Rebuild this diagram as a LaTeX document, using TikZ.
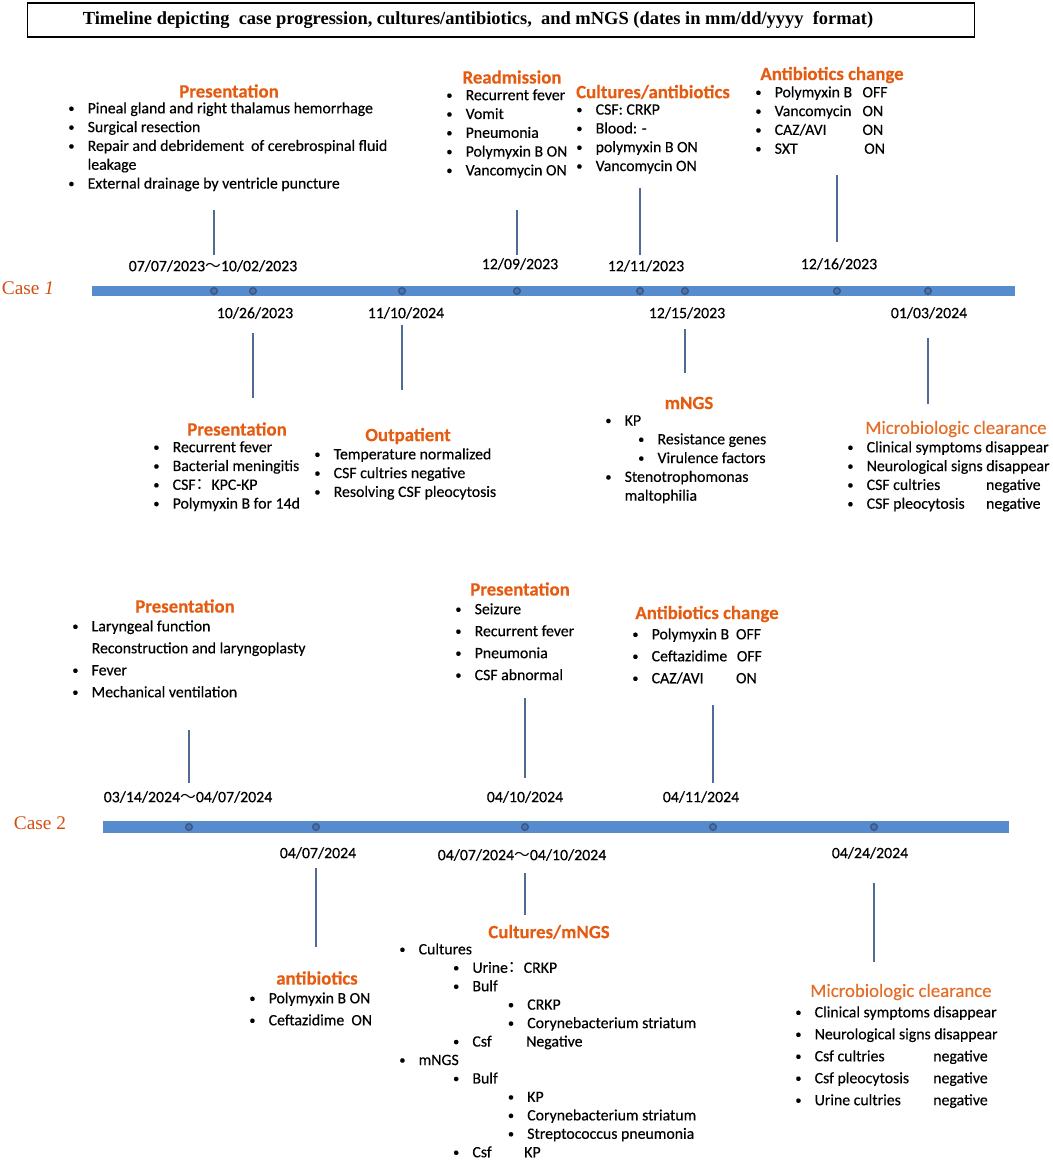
\documentclass[tikz,border=0pt]{standalone}
\usepackage{fontspec}
\setmainfont{Carlito}[FakeBold=0.3]
\newfontfamily\casefont{Liberation Serif}
\newfontfamily\cjk{Noto Sans CJK SC}
\usepackage{xcolor}
\usepackage{tikz}

\definecolor{headorange}{RGB}{228,92,18}
\definecolor{clearorange}{RGB}{228,110,40}
\definecolor{caseorange}{RGB}{212,78,20}
\definecolor{barblue}{RGB}{86,139,206}
\definecolor{stemblue}{RGB}{78,108,150}
\definecolor{dotblue}{RGB}{62,90,138}

\newcommand{\itm}{\makebox[11pt][l]{\raisebox{0.6pt}{\fontsize{7}{7}\selectfont\textbullet}}}

\begin{document}
\begin{tikzpicture}[x=0.02cm,y=-0.02cm]
	  \tikzset{titlebox/.style={draw, line width=1pt, minimum width=18.94cm, minimum height=0.68cm, inner sep=0pt},
	  	titletext/.style={font=\casefont\bfseries\fontsize{10.5}{12}\selectfont, inner sep=0pt},
	  	case/.style={font=\casefont\fontsize{11}{13}\selectfont, text=caseorange, inner sep=0pt},
	  	head/.style={font=\bfseries\fontsize{10.7}{12}\selectfont, text=headorange, inner sep=0pt},
	  	clear/.style={font=\fontsize{10.7}{12}\selectfont, text=clearorange, inner sep=0pt},
	  	list/.style={anchor=north west, align=left, inner sep=0pt,
	  		font=\fontsize{9}{10.7}\selectfont, execute at begin node=\strut},
	  	widelist/.style={list, font=\fontsize{9}{12.5}\selectfont},
	  	date/.style={font=\fontsize{9}{11}\selectfont, inner sep=0pt},
	  	stem/.style={draw=stemblue, line width=0.8pt},
	  	bar/.style={fill=barblue},
	  	dot/.style={circle, draw=dotblue, fill=barblue!85!black, line width=0.9pt, minimum size=0.13cm, inner sep=0pt},
	  }
	  \useasboundingbox (0,0) rectangle (1052,1163);

	  %% title
	  \node [titlebox] (tbox) at (501,20) {};
	  \node [titletext] (title) at (478,20) {Timeline depicting\ \ case progression, cultures/antibiotics,\ \ and mNGS (dates in mm/dd/yyyy\ \ format)};

	  %% case 1 timeline
	  \node [case] (case1) at (28,288) {Case \textit{1}};
	  \fill [bar] (92,286) rectangle (1015,296);
	  \foreach \n/\x in {a/214,b/253,c/402,d/517,e/640,f/685,g/837,h/928}
	  	\node [dot] (c1\n) at (\x,291) {};

	  \node [date] (d1a) at (213,266) {07/07/2023{\cjk ～}10/02/2023};
	  \node [date] (d1b) at (255,313) {10/26/2023};
	  \node [date] (d1c) at (406,313) {11/10/2024};
	  \node [date] (d1d) at (520,264) {12/09/2023};
	  \node [date] (d1e) at (646,266) {12/11/2023};
	  \node [date] (d1f) at (687,313) {12/15/2023};
	  \node [date] (d1g) at (839,264) {12/16/2023};
	  \node [date] (d1h) at (929,313) {01/03/2024};

	  \node [head] (pres1) at (229,91) {Presentation};
	  \node [list] (pres1l) at (68,102) {\itm Pineal gland and right thalamus hemorrhage\\
	  	\itm Surgical resection\\
	  	\itm Repair and debridement\ \ of cerebrospinal fluid\\
	  	\hspace*{11pt}leakage\\
	  	\itm External drainage by ventricle puncture};

	  \node [head] (readm1) at (512,77) {Readmission};
	  \node [list] (readm1l) at (446,89) {\itm Recurrent fever\\ \itm Vomit\\ \itm Pneumonia\\
	  	\itm Polymyxin B ON\\ \itm Vancomycin ON};

	  \node [head] (cult1) at (653,92) {Cultures/antibiotics};
	  \node [list] (cult1l) at (576,104) {\itm CSF: CRKP\\ \itm Blood: -\\ \itm polymyxin B ON\\ \itm Vancomycin ON};

	  \node [head] (abx1) at (832,75) {Antibiotics change};
	  \node [list] (abx1l) at (755,86) {\itm \makebox[50pt][l]{Polymyxin B}OFF\\
	  	\itm \makebox[50pt][l]{Vancomycin}ON\\
	  	\itm \makebox[50pt][l]{CAZ/AVI}ON\\
	  	\itm \makebox[51pt][l]{SXT}ON};

	  \node [head] (pres1b) at (237,429) {Presentation};
	  \node [list] (pres1bl) at (153,441) {\itm Recurrent fever\\ \itm Bacterial meningitis\\
	  	\itm CSF{\cjk ：}KPC-KP\\ \itm Polymyxin B for 14d};

	  \node [head] (outp1) at (408,436) {Outpatient};
	  \node [list] (outp1l) at (314,448) {\itm Temperature\ normalized\\ \itm CSF cultries negative\\
	  	\itm Resolving CSF pleocytosis};

	  \node [head] (mngs1) at (689,403) {mNGS};
	  \node [list] (mngs1l) at (605,415) {\itm KP\\
	  	\hspace*{18.7pt}\itm Resistance genes\\
	  	\hspace*{18.7pt}\itm Virulence factors\\
	  	\itm Stenotrophomonas\\
	  	\hspace*{11pt}maltophilia};

	  \node [clear] (clear1) at (956,429) {Microbiologic clearance};
	  \node [list] (clear1l) at (847,441) {\itm Clinical symptoms disappear\\
	  	\itm Neurological signs disappear\\
	  	\itm \makebox[68pt][l]{CSF cultries}negative\\
	  	\itm \makebox[68pt][l]{CSF pleocytosis}negative};

	  %% stems case 1
	  \draw [stem] (c1a) ++(0,-36) -- ++(0,-45);
	  \draw [stem] (c1b) ++(0,42) -- ++(0,65);
	  \draw [stem] (c1c) ++(0,34) -- ++(0,65);
	  \draw [stem] (c1d) ++(0,-36) -- ++(0,-45);
	  \draw [stem] (c1e) ++(0,-36) -- ++(0,-67);
	  \draw [stem] (c1f) ++(0,38) -- ++(0,44);
	  \draw [stem] (c1g) ++(0,-49) -- ++(0,-67);
	  \draw [stem] (c1h) ++(0,47) -- ++(0,66);

	  %% case 2 timeline
	  \node [case] (case2) at (40,823) {Case 2};
	  \fill [bar] (103,821) rectangle (1009,833);
	  \foreach \n/\x in {a/189,b/316,c/525,d/713,e/874}
	  	\node [dot] (c2\n) at (\x,827) {};

	  \node [date] (d2a) at (188,797) {03/14/2024{\cjk ～}04/07/2024};
	  \node [date] (d2b) at (318,853) {04/07/2024};
	  \node [date] (d2c) at (525,797) {04/10/2024};
	  \node [date] (d2d) at (522,855) {04/07/2024{\cjk ～}04/10/2024};
	  \node [date] (d2e) at (701,797) {04/11/2024};
	  \node [date] (d2f) at (870,853) {04/24/2024};

	  \node [head] (pres2) at (185,606) {Presentation};
	  \node [widelist] (pres2l) at (72,620) {\itm Laryngeal function\\
	  	\hspace*{11pt}Reconstruction and laryngoplasty\\
	  	\itm Fever\\ \itm Mechanical ventilation};

	  \node [head] (pres2b) at (520,589) {Presentation};
	  \node [widelist] (pres2bl) at (455,603) {\itm Seizure\\ \itm Recurrent fever\\ \itm Pneumonia\\ \itm CSF abnormal};

	  \node [head] (abx2) at (707,614) {Antibiotics change};
	  \node [widelist] (abx2l) at (632,628) {\itm \makebox[48pt][l]{Polymyxin B}OFF\\
	  	\itm \makebox[48.5pt][l]{Ceftazidime}OFF\\
	  	\itm \makebox[48pt][l]{CAZ/AVI}ON};

	  \node [head] (abx2b) at (317,978) {antibiotics};
	  \node [widelist] (abx2bl) at (249,992) {\itm Polymyxin B ON\\ \itm Ceftazidime\ \ ON};

	  \node [head] (cult2) at (549,932) {Cultures/mNGS};
	  \node [list, font=\fontsize{9}{10.5}\selectfont] (cult2l) at (399,943) {\itm Cultures\\
	  	\hspace*{30.6pt}\itm Urine{\cjk ：}CRKP\\
	  	\hspace*{30.6pt}\itm Bulf\\
	  	\hspace*{61.8pt}\itm CRKP\\
	  	\hspace*{61.8pt}\itm Corynebacterium striatum\\
	  	\hspace*{30.6pt}\itm \makebox[30.6pt][l]{Csf}Negative\\
	  	\itm mNGS\\
	  	\hspace*{30.6pt}\itm Bulf\\
	  	\hspace*{61.8pt}\itm KP\\
	  	\hspace*{61.8pt}\itm Corynebacterium striatum\\
	  	\hspace*{61.8pt}\itm Streptococcus pneumonia\\
	  	\hspace*{30.6pt}\itm \makebox[29.5pt][l]{Csf}KP};

	  \node [clear] (clear2) at (901,992) {Microbiologic clearance};
	  \node [widelist] (clear2l) at (795,1006) {\itm Clinical symptoms disappear\\
	  	\itm Neurological signs disappear\\
	  	\itm \makebox[67.5pt][l]{Csf cultries}negative\\
	  	\itm \makebox[67.5pt][l]{Csf pleocytosis}negative\\
	  	\itm \makebox[67.5pt][l]{Urine cultries}negative};

	  %% stems case 2
	  \draw [stem] (c2a) ++(0,-44) -- ++(0,-53);
	  \draw [stem] (c2b) ++(0,41) -- ++(0,79);
	  \draw [stem] (c2c) ++(0,-49) -- ++(0,-80);
	  \draw [stem] (c2c) ++(0,46) -- ++(0,42);
	  \draw [stem] (c2d) ++(0,-44) -- ++(0,-78);
	  \draw [stem] (c2e) ++(0,56) -- ++(0,79);
\end{tikzpicture}
\end{document}
